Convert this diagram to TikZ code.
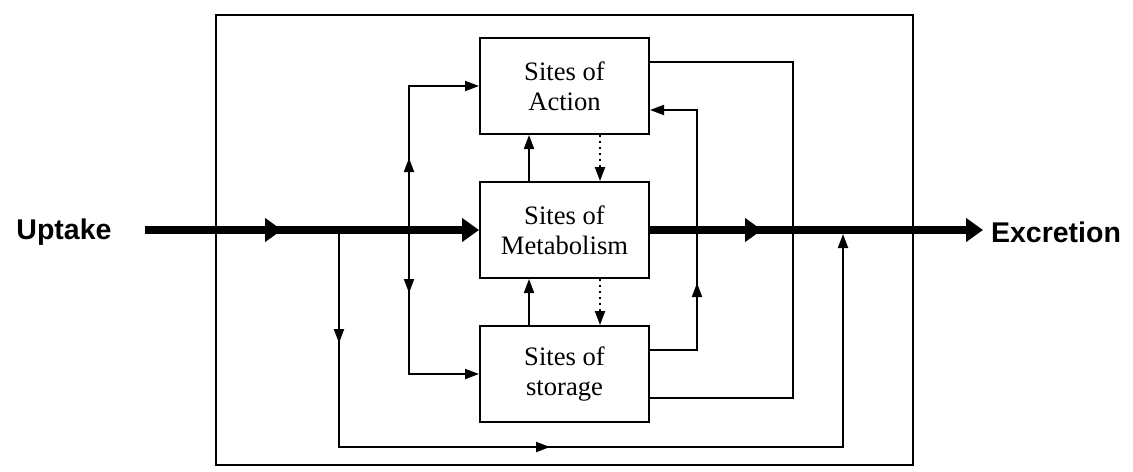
\documentclass[tikz,border=0pt]{standalone}
\usepackage{fontspec}
\setmainfont{Liberation Serif}
\newfontfamily\labelfont{Liberation Sans}
\usetikzlibrary{arrows.meta}

\begin{document}
\begin{tikzpicture}[
            x = 0.5pt, y = -0.5pt, % one unit per pixel, y downwards
            > = {Triangle[length=7pt, width=5pt]}, % thin arrow head
            line width = 1pt, % line style
            site/.style = {draw, fill = white, minimum width = 84.5pt,
                minimum height = 48pt, align = center,
                font = \fontsize{13.3}{15}\selectfont},
            flow/.style = {line width = 4pt,
                -{Triangle[length=8.5pt, width=11.5pt]}},
            endlabel/.style = {font = \labelfont\bfseries\fontsize{14.25}{17}\selectfont}
        ]

        \useasboundingbox (0,0) rectangle (1133,471);

        % body frame
        \node[draw, minimum width = 348.5pt, minimum height = 225pt] (frame) at (564.5,240) {};

	\node[site] (action) at (564.5,86) {Sites of\\Action};
	\node[site] (metab) at (564.5,230) {Sites of\\Metabolism};
	\node[site] (storage) at (564.5,374) {Sites of\\storage};

	\node[endlabel] (uptake) at (64,232) {Uptake};
	\node[endlabel] (excretion) at (1056,232) {Excretion};

	\coordinate (in) at (145,230);
	\coordinate (m1) at (282,230);
	\coordinate (s1) at (339,230);
	\coordinate (s2) at (409,230);
	\coordinate (m2) at (762,230);
	\coordinate (j1) at (843,230);
	\coordinate (out) at (983,230);
	\coordinate (r1) at (793,230);
	\coordinate (q1) at (697,283);
	\coordinate (u1) at (409,158);
	\coordinate (d1) at (409,293);
	\coordinate (p1) at (339,343);
	\coordinate (c1) at (339,447);
	\coordinate (p2) at (550,447);
	\coordinate (c2) at (843,447);

        % main flow
        \draw[flow] (in) -- (m1);
        \draw[flow] ([xshift=-8.5pt]m1) -- (metab.west);
        \draw[flow] (metab.east) -- (m2);
        \draw[flow] ([xshift=-8.5pt]m2) -- (out);

        % distribution
        \draw[->] (s2) -- (u1);
        \draw[->] ([yshift=-7pt]u1) |- (action.west);
        \draw[->] (s2) -- (d1);
        \draw[->] ([yshift=7pt]d1) |- (storage.west);

        \draw[->] ([xshift=-17.75pt]metab.north) -- ([xshift=-17.75pt]action.south);
        \draw[->] ([xshift=-17.75pt]storage.north) -- ([xshift=-17.75pt]metab.south);
        \draw[->, dotted] ([xshift=17.75pt]action.south) -- ([xshift=17.75pt]metab.north);
        \draw[->, dotted] ([xshift=17.75pt]metab.south) -- ([xshift=17.75pt]storage.north);

        \draw ([yshift=12pt]action.east) -| (r1) |- ([yshift=-12pt]storage.east);
        \draw[->] ([yshift=12pt]storage.east) -| (q1);
        \draw[->] ([yshift=-7pt]q1) |- ([yshift=-12pt]action.east);

        % bypass
        \draw[->] (s1) -- (p1);
        \draw[->] ([yshift=7pt]p1) -- (c1) -- (p2);
        \draw[->] ([xshift=-7pt]p2) -- (c2) -- ([yshift=-2pt]j1);

    \end{tikzpicture}
\end{document}
